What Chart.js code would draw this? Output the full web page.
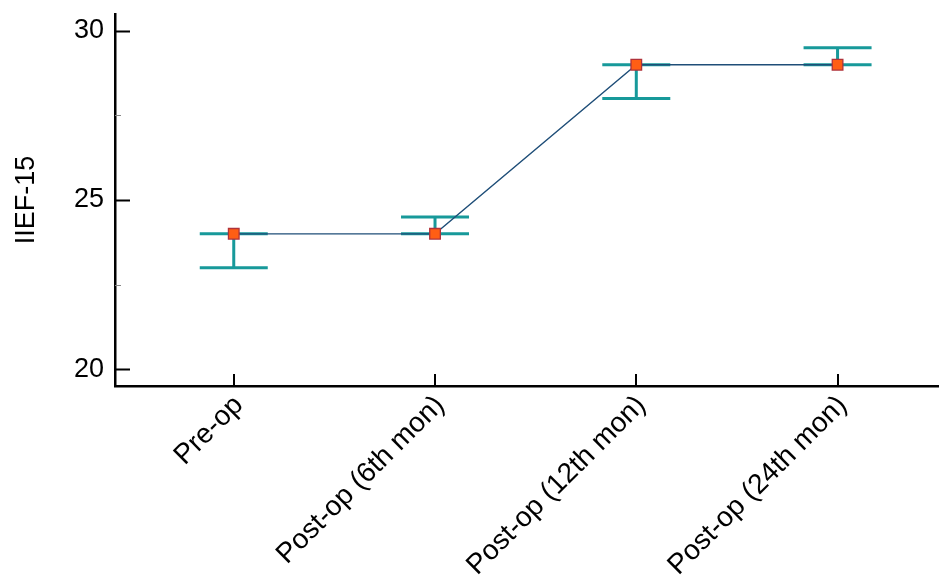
<!DOCTYPE html>
<html>
<head>
<meta charset="utf-8">
<script src="https://cdn.jsdelivr.net/npm/chart.js@4"></script>
<style>
  html, body { margin: 0; padding: 0; background: #fff; }
  #wrap { width: 947px; height: 578px; }
</style>
</head>
<body>
<div id="wrap"><canvas id="iiefChart"></canvas></div>
<script>
// data
const labels = ["Pre-op", "Post-op (6th mon)", "Post-op (12th mon)", "Post-op (24th mon)"];
const means = [24, 24, 29, 29];
const lower = [23, 24, 28, 29];
const upper = [24, 24.5, 29, 29.5];
const yTicks = [20, 25, 30];
const yMinorTicks = [22.5, 27.5];

const TEAL = "#17999a";
const FONT = "'Liberation Sans', Arial, sans-serif";

// error bars, under the line
const errorBars = {
  id: "errorBars",
  beforeDatasetsDraw(chart) {
    const { ctx, scales: { x, y } } = chart;
    ctx.save();
    ctx.strokeStyle = TEAL;
    ctx.lineWidth = 3;
    means.forEach((m, i) => {
      const px = x.getPixelForValue(i);
      const lo = y.getPixelForValue(lower[i]);
      const hi = y.getPixelForValue(upper[i]);
      ctx.beginPath();
      ctx.moveTo(px, lo); ctx.lineTo(px, hi);
      ctx.moveTo(px - 34, lo); ctx.lineTo(px + 34, lo);
      ctx.moveTo(px - 34, hi); ctx.lineTo(px + 34, hi);
      ctx.stroke();
    });
    ctx.restore();
  }
};

// inward tick marks
const inwardTicks = {
  id: "inwardTicks",
  afterDraw(chart) {
    const { ctx, scales: { x, y }, chartArea } = chart;
    ctx.save();
    ctx.strokeStyle = "#000";
    ctx.lineWidth = 2;
    ctx.beginPath();
    yTicks.forEach(v => {
      const py = Math.round(y.getPixelForValue(v)) + 0.5;
      ctx.moveTo(chartArea.left, py); ctx.lineTo(chartArea.left + 15, py);
    });
    means.forEach((m, i) => {
      const px = Math.round(x.getPixelForValue(i));
      ctx.moveTo(px, chartArea.bottom); ctx.lineTo(px, chartArea.bottom - 12);
    });
    ctx.stroke();
    ctx.strokeStyle = "#888";
    ctx.lineWidth = 1;
    ctx.beginPath();
    yMinorTicks.forEach(v => {
      const py = Math.round(y.getPixelForValue(v)) + 0.5;
      ctx.moveTo(chartArea.left, py); ctx.lineTo(chartArea.left + 6, py);
    });
    ctx.stroke();
    ctx.restore();
  }
};

new Chart(document.getElementById("iiefChart"), {
  type: "line",
  data: {
    datasets: [{
      data: means.map((v, i) => ({ x: i, y: v })),
      borderColor: "#1f4e78",
      borderWidth: 1.3,
      tension: 0,
      pointStyle: "rect",
      pointRadius: 7.5,
      pointBackgroundColor: "#ff5e14",
      pointBorderColor: "#b0323a",
      pointBorderWidth: 1.3
    }]
  },
  options: {
    responsive: true,
    maintainAspectRatio: false,
    animation: false,
    layout: { padding: { top: 14, right: 0, left: 0, bottom: 0 } },
    plugins: { legend: { display: false }, tooltip: { enabled: false } },
    scales: {
      x: {
        type: "linear",
        min: -0.59,
        max: 3.50,
        afterBuildTicks: s => { s.ticks = labels.map((l, i) => ({ value: i })); },
        afterFit: s => { s.height = 192; s.paddingLeft = 0; s.paddingRight = 0; },
        grid: { display: false, drawTicks: false },
        border: { display: true, color: "#000", width: 2.5 },
        ticks: {
          autoSkip: false,
          minRotation: 45,
          maxRotation: 45,
          padding: 3,
          labelOffset: 5,
          color: "#000",
          font: { family: FONT, size: 28 },
          callback: v => labels[v]
        }
      },
      y: {
        min: 19.5,
        max: 30.5,
        afterBuildTicks: s => { s.ticks = yTicks.map(v => ({ value: v })); },
        afterFit: s => { s.width = 115; s.paddingTop = 0; s.paddingBottom = 0; },
        grid: { display: false, drawTicks: false },
        border: { display: true, color: "#000", width: 2.5 },
        ticks: {
          padding: 11,
          color: "#000",
          font: { family: FONT, size: 27 }
        },
        title: {
          display: true,
          text: "IIEF-15",
          color: "#000",
          font: { family: FONT, size: 27 },
          padding: { top: 10, bottom: 0 }
        }
      }
    }
  },
  plugins: [errorBars, inwardTicks]
});
</script>
</body>
</html>
